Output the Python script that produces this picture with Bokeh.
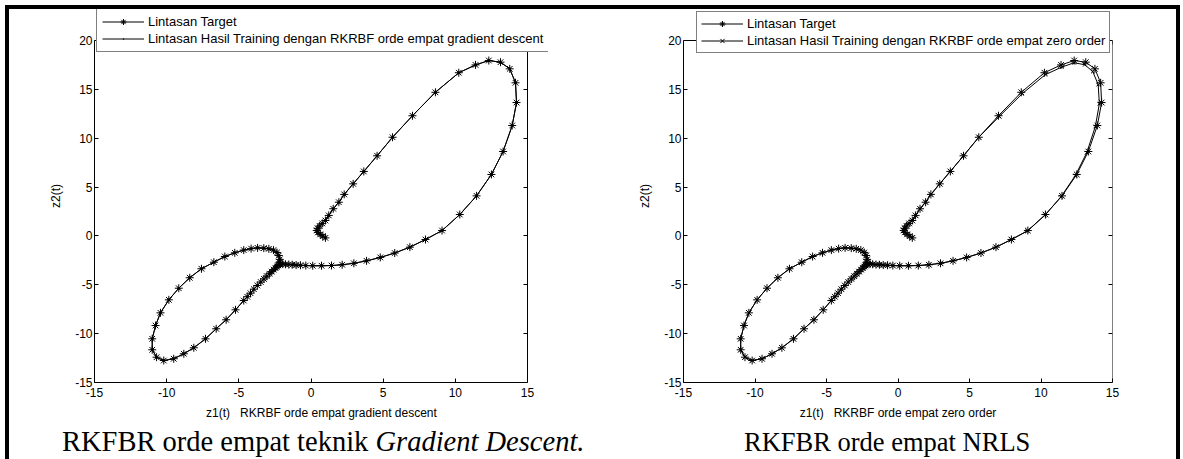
from bokeh.plotting import figure
from bokeh.models import Legend, LegendItem, LinearAxis, FixedTicker, Range1d, Div
from bokeh.layouts import row, column
from bokeh.embed import file_html
from bokeh.resources import INLINE

# ---- data ----
z1_target = [1.00, 0.82, 0.64, 0.48, 0.40, 0.46, 0.60, 0.78, 1.00,
             1.23, 1.54, 1.93, 2.30, 2.92, 3.66, 4.58, 5.65, 7.03, 8.62,
             10.24, 11.40, 12.32, 13.13, 13.77, 14.17, 14.24, 13.94, 13.31, 12.50,
             11.47, 10.31, 9.08, 7.93, 6.85, 5.80, 4.80, 3.85, 2.97, 2.16,
             1.42, 0.73, 0.12, -0.36, -0.73, -1.03, -1.30, -1.54, -1.77, -1.96,
             -2.11, -2.20,
             -2.28, -2.36, -2.46, -2.58, -2.72, -2.88, -3.06, -3.26, -3.48, -3.72,
             -3.96, -4.19, -4.42, -4.66, -5.23, -5.88, -6.57, -7.31, -8.12, -8.81,
             -9.51, -10.20, -10.70, -11.00, -11.00, -10.77, -10.43, -9.85, -9.16, -8.40,
             -7.59, -6.73, -5.97, -5.28, -4.66, -4.15, -3.70, -3.27, -2.92, -2.60,
             -2.36, -2.23, -2.16, -2.18]
z2_target = [-0.20, -0.02, 0.16, 0.36, 0.56, 0.78, 1.02, 1.28, 1.58,
             2.10, 2.78, 3.45, 4.25, 5.33, 6.60, 8.20, 10.10, 12.30, 14.70,
             16.70, 17.50, 17.95, 17.78, 17.10, 15.67, 13.65, 11.30, 8.64, 6.29,
             4.10, 2.19, 0.55, -0.37, -1.15, -1.75, -2.20, -2.55, -2.80, -2.95,
             -3.03, -3.05, -3.05, -3.03, -3.00, -2.98, -2.95, -2.93, -2.90, -2.88,
             -2.87, -2.90,
             -3.02, -3.14, -3.28, -3.45, -3.65, -3.87, -4.12, -4.40, -4.72, -5.07,
             -5.45, -5.86, -6.22, -6.61, -7.56, -8.58, -9.50, -10.53, -11.45, -12.06,
             -12.57, -12.75, -12.41, -11.65, -10.53, -9.17, -7.87, -6.54, -5.35, -4.28,
             -3.36, -2.69, -2.11, -1.73, -1.45, -1.30, -1.22, -1.25, -1.32, -1.45,
             -1.70, -2.00, -2.40, -2.70]

# gradient-descent result coincides with the target in the picture
z1_gd = list(z1_target)
z2_gd = list(z2_target)

# zero-order (NRLS) result: slightly inside the target on the upper loop
z1_nrls = [1.00, 0.82, 0.64, 0.48, 0.40, 0.46, 0.60, 0.78, 1.00,
           1.23, 1.54, 1.93, 2.30, 2.92, 3.66, 4.58, 5.65, 7.08, 8.68,
           10.30, 11.45, 12.32, 13.06, 13.62, 14.00, 14.08, 13.80, 13.20, 12.40,
           11.40, 10.26, 9.05, 7.93, 6.85, 5.80, 4.80, 3.85, 2.97, 2.16,
           1.42, 0.73, 0.12, -0.36, -0.73, -1.03, -1.30, -1.54, -1.77, -1.96,
           -2.11, -2.20,
           -2.28, -2.36, -2.46, -2.58, -2.72, -2.88, -3.06, -3.26, -3.48, -3.72,
           -3.96, -4.19, -4.42, -4.66, -5.23, -5.88, -6.57, -7.31, -8.12, -8.81,
           -9.51, -10.20, -10.70, -11.00, -11.00, -10.77, -10.43, -9.85, -9.16, -8.40,
           -7.59, -6.73, -5.97, -5.28, -4.66, -4.15, -3.70, -3.27, -2.92, -2.60,
           -2.36, -2.23, -2.16, -2.18]
z2_nrls = [-0.20, -0.02, 0.16, 0.36, 0.56, 0.78, 1.02, 1.28, 1.58,
           2.10, 2.78, 3.45, 4.25, 5.33, 6.60, 8.20, 10.10, 12.22, 14.55,
           16.50, 17.28, 17.72, 17.52, 16.82, 15.48, 13.52, 11.20, 8.52, 6.18,
           4.00, 2.10, 0.50, -0.37, -1.15, -1.75, -2.20, -2.55, -2.80, -2.95,
           -3.03, -3.05, -3.05, -3.03, -3.00, -2.98, -2.95, -2.93, -2.90, -2.88,
           -2.87, -2.90,
           -3.02, -3.14, -3.28, -3.45, -3.65, -3.87, -4.12, -4.40, -4.72, -5.07,
           -5.45, -5.86, -6.22, -6.61, -7.56, -8.58, -9.50, -10.53, -11.45, -12.06,
           -12.57, -12.75, -12.41, -11.65, -10.53, -9.17, -7.87, -6.54, -5.35, -4.28,
           -3.36, -2.69, -2.11, -1.73, -1.45, -1.30, -1.22, -1.25, -1.32, -1.45,
           -1.70, -2.00, -2.40, -2.70]

x_ticks = [-15, -10, -5, 0, 5, 10, 15]
y_ticks = [-15, -10, -5, 0, 5, 10, 15, 20]
x_lim = (-15, 15)
y_lim = (-15, 20)

legend_target = "Lintasan Target"
legend_gd = "Lintasan Hasil Training dengan RKRBF orde empat gradient descent"
legend_nrls = "Lintasan Hasil Training dengan RKRBF orde empat zero order"
xlabel_gd = "z1(t)\u00a0\u00a0\u00a0RKRBF orde empat gradient descent"
xlabel_nrls = "z1(t)\u00a0\u00a0\u00a0RKRBF orde empat zero order"
ylabel = "z2(t)"
caption_gd = "RKFBR orde empat teknik <i>Gradient Descent.</i>"
caption_nrls = "RKFBR orde empat NRLS"

SANS = "Liberation Sans"

# layout in pixels
AX_W = 433            # pixel length of x from -15 to 15 (left chart)
AX_H = 342            # pixel length of y from -15 to 20
PAD_TOP = 31          # pixels above y=20 that hold the legend
FRAME_H = AX_H + PAD_TOP


def style_axis(ax, ticks, bounds, show_labels=True):
    ax.ticker = FixedTicker(ticks=ticks)
    ax.bounds = bounds
    ax.major_tick_in = 4
    ax.major_tick_out = 0
    ax.minor_tick_in = 0
    ax.minor_tick_out = 0
    ax.axis_line_color = "black"
    ax.major_tick_line_color = "black"
    ax.major_label_text_font = SANS
    ax.major_label_text_color = "black"
    ax.axis_label_text_font = SANS
    ax.axis_label_text_font_size = "12px"
    ax.axis_label_text_font_style = "normal"
    ax.axis_label_text_color = "black"
    if show_labels:
        ax.major_label_text_font_size = "12px"
        ax.major_label_overrides = {t: str(t) for t in ticks}
    else:
        ax.major_label_text_font_size = "0px"
        ax.major_label_overrides = {t: "" for t in ticks}
        ax.major_label_standoff = 0


def make_fig(ml, fw, mr, ax_w, xlabel):
    px_per_x = ax_w / (x_lim[1] - x_lim[0])
    px_per_y = AX_H / (y_lim[1] - y_lim[0])
    x_end = x_lim[1] + (fw - ax_w) / px_per_x
    y_end = y_lim[1] + PAD_TOP / px_per_y
    p = figure(frame_width=fw, frame_height=FRAME_H,
               min_border_left=ml, min_border_right=mr,
               min_border_top=0, min_border_bottom=40,
               x_range=Range1d(x_lim[0], x_end), y_range=Range1d(y_lim[0], y_end),
               x_axis_label=xlabel, y_axis_label=ylabel,
               output_backend="svg", toolbar_location=None, margin=0)
    p.xgrid.visible = False
    p.ygrid.visible = False
    p.outline_line_color = None
    p.background_fill_color = "white"
    p.border_fill_color = "white"
    style_axis(p.xaxis[0], x_ticks, x_lim)
    style_axis(p.yaxis[0], y_ticks, y_lim)
    p.xaxis[0].major_label_standoff = 5
    p.xaxis[0].axis_label_standoff = 6
    p.yaxis[0].major_label_standoff = 2
    p.yaxis[0].axis_label_standoff = 9
    ra = LinearAxis(fixed_location=x_lim[1])
    style_axis(ra, y_ticks, y_lim, show_labels=False)
    p.add_layout(ra, "right")
    ta = LinearAxis(fixed_location=y_lim[1])
    style_axis(ta, x_ticks, x_lim, show_labels=False)
    p.add_layout(ta, "above")
    return p


def add_series(p, z1t, z2t, z1r, z2r, res_marker, res_size, res_label, loc, pad):
    lt = p.line(z1t, z2t, line_color="black", line_width=1)
    st = p.scatter(z1t, z2t, marker="asterisk", size=8, line_color="black", line_width=1)
    lr = p.line(z1r, z2r, line_color="black", line_width=1)
    sr = p.scatter(z1r, z2r, marker=res_marker, size=res_size,
                   fill_color="black", line_color="black", line_width=1)
    legend = Legend(items=[LegendItem(label=legend_target, renderers=[lt, st]),
                           LegendItem(label=res_label, renderers=[lr, sr])],
                    location=loc)
    legend.label_text_font = SANS
    legend.label_text_font_size = "13px"
    legend.label_text_color = "black"
    legend.label_standoff = 4
    legend.glyph_width = 42
    legend.glyph_height = 15
    legend.label_height = 15
    legend.spacing = 2
    legend.padding = pad
    legend.margin = 0
    legend.border_line_color = "black"
    legend.border_line_width = 1
    legend.background_fill_color = "white"
    legend.background_fill_alpha = 1.0
    p.add_layout(legend, "center")


def caption_div(html, width, pad_left, size):
    return Div(text=('<div style="font-family:\'Liberation Serif\';'
                     f'font-size:{size}px;line-height:34px;color:black;white-space:nowrap;'
                     f'text-align:left;padding-left:{pad_left}px;padding-top:3px;">{html}</div>'),
               width=width, height=37, margin=0, styles={"overflow": "hidden"})


# left chart: frame widened on the right so that the legend box fits
p1 = make_fig(85, 454, 42, AX_W, xlabel_gd)
add_series(p1, z1_target, z2_target, z1_gd, z2_gd, "dot", 12, legend_gd, (2, 330), 5)

# right chart
p2 = make_fig(93, 429, 64, 429, xlabel_nrls)
add_series(p2, z1_target, z2_target, z1_nrls, z2_nrls, "x", 5, legend_nrls, (13, 329), 4)

cap1 = caption_div(caption_gd, 581, 53, 28.5)
cap2 = caption_div(caption_nrls, 586, 154, 26.5)

top_bar = Div(text="", width=1175, height=4, margin=(5, 0, 0, 5),
              styles={"background-color": "black"})
left_bar = Div(text="", width=4, height=450, margin=(0, 0, 0, 5),
               styles={"background-color": "black"})
right_bar = Div(text="", width=4, height=450, margin=0,
                styles={"background-color": "black"})

charts = column(row(p1, p2, spacing=0), row(cap1, cap2, spacing=0), spacing=0)
layout = column(top_bar, row(left_bar, charts, right_bar, spacing=0), spacing=0)

open("out.html", "w").write(file_html(layout, INLINE))
